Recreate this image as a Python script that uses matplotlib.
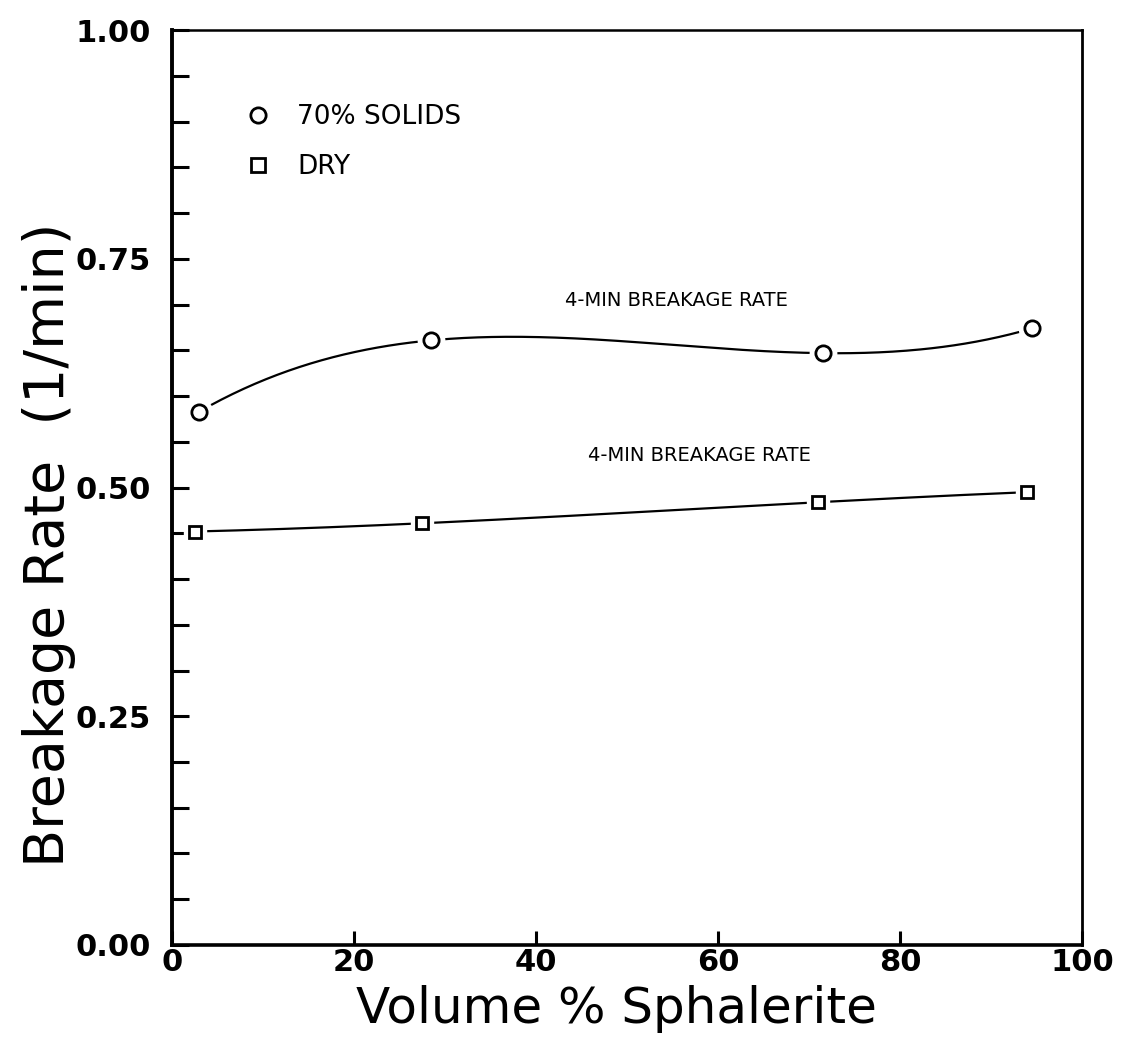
import numpy as np
import matplotlib
matplotlib.use('Agg')
import matplotlib.pyplot as plt
from matplotlib.lines import Line2D

# ---------- data ----------
wet_x = [3.0, 28.5, 71.5, 94.5]
wet_rate = [0.583, 0.661, 0.647, 0.674]
dry_x = [2.5, 27.5, 71.0, 94.0]
dry_rate = [0.452, 0.461, 0.484, 0.495]
legend_labels = ['70% SOLIDS', 'DRY']
curve_note = '4-MIN BREAKAGE RATE'

plt.rcParams['font.family'] = ['DejaVu Sans']

fig = plt.figure(figsize=(11.23, 10.43), dpi=100)
ax = fig.add_axes([0.153, 0.094, 0.8105, 0.877])

# smooth curve through the 4 points (one cubic through all of them)
for xs_, ys_, mk, ms, gap in [(wet_x, wet_rate, 'o', 11, 19),
                               (dry_x, dry_rate, 's', 9, 16)]:
    coef = np.polyfit(xs_, ys_, len(xs_) - 1)
    xf = np.linspace(xs_[0], xs_[-1], 300)
    ax.plot(xf, np.polyval(coef, xf), color='black', lw=1.6, zorder=2)
    # white knock-out so the line stops short of each symbol
    ax.plot(xs_, ys_, ls='none', marker=mk, ms=gap, mfc='white', mec='white', zorder=3)
    ax.plot(xs_, ys_, ls='none', marker=mk, ms=ms, mfc='white', mec='black',
            mew=2, zorder=4)

ax.text(43.2, 0.705, curve_note, fontsize=14, va='center', ha='left')
ax.text(45.7, 0.535, curve_note, fontsize=14, va='center', ha='left')

handles = [Line2D([], [], ls='none', marker='o', ms=11, mfc='white', mec='black', mew=2),
           Line2D([], [], ls='none', marker='s', ms=9.5, mfc='white', mec='black', mew=2)]
ax.legend(handles, legend_labels, loc='upper left', bbox_to_anchor=(0.054, 0.945),
          frameon=False, fontsize=19, handlelength=1.0, handletextpad=1.0,
          labelspacing=0.9)

ax.set_xlim(0, 100)
ax.set_ylim(0, 1.0)
ax.set_xticks([0, 20, 40, 60, 80, 100])
ax.set_yticks([0, 0.25, 0.5, 0.75, 1.0])
ax.set_yticklabels(['0.00', '0.25', '0.50', '0.75', '1.00'])
ax.set_yticks(np.arange(0, 1.0001, 0.05), minor=True)

ax.tick_params(axis='y', which='both', direction='in', length=12, width=2.2,
               right=False, labelsize=22, pad=15)
ax.tick_params(axis='x', which='major', direction='in', length=10, width=2.2,
               top=False, labelsize=22, pad=2)
for lab in ax.get_xticklabels() + ax.get_yticklabels():
    lab.set_fontweight('bold')

ax.spines['left'].set_linewidth(2.8)
ax.spines['bottom'].set_linewidth(2.6)
ax.spines['top'].set_linewidth(1.8)
ax.spines['right'].set_linewidth(2.0)

ax.set_xlabel('Volume % Sphalerite', fontsize=36)
ax.xaxis.set_label_coords(0.488, -0.044)
ax.set_ylabel('Breakage Rate  (1/min)', fontsize=40)
ax.yaxis.set_label_coords(-0.105, 0.437)

fig.savefig('out.png', dpi=100)
